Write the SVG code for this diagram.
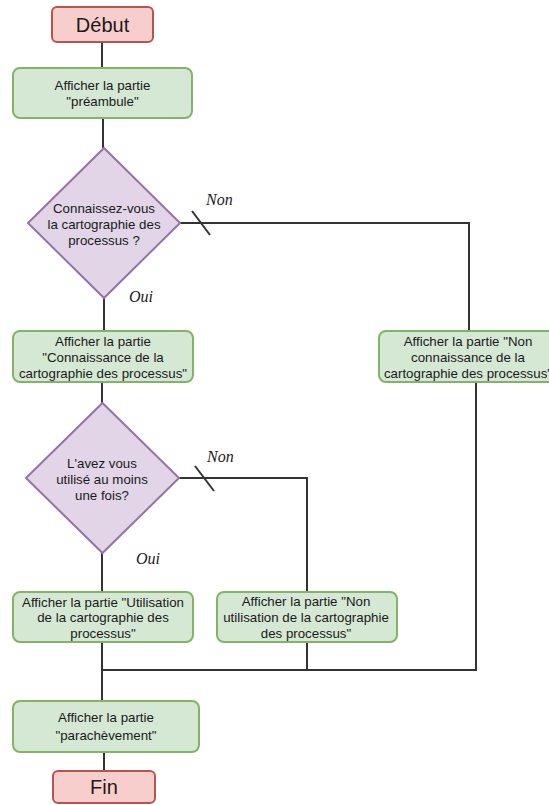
<svg xmlns="http://www.w3.org/2000/svg" width="549" height="805" viewBox="0 0 549 805">
<style>
.term{fill:#f8cecc;stroke:#b85450;stroke-width:2}
.proc{fill:#d5e8d4;stroke:#82b366;stroke-width:2}
.dec{fill:#e1d5e7;stroke:#9673a6;stroke-width:2}
.t{font-family:"Liberation Sans",Arial,sans-serif;font-size:13.3px;fill:#1a1a1a;text-anchor:middle}
.tb{font-family:"Liberation Sans",Arial,sans-serif;font-size:20px;fill:#1a1a1a;text-anchor:middle}
.lbl{font-family:"Liberation Serif","Times New Roman",serif;font-style:italic;font-size:16px;fill:#1a1a1a}
.c{fill:none;stroke:#333333;stroke-width:2}
</style>
<rect width="549" height="805" fill="#ffffff"/>
<g id="connectors">
<path class="c" d="M102 42 V68"/>
<path class="c" d="M103 118 V148"/>
<path class="c" d="M180 223 H469 V331"/>
<path class="c" d="M192 211 L210 235"/>
<path class="c" d="M104 298 V331"/>
<path class="c" d="M102 382 V403"/>
<path class="c" d="M179 478 H307 V592"/>
<path class="c" d="M195 466 L214 491"/>
<path class="c" d="M102 553 V592"/>
<path class="c" d="M102 642 V701"/>
<path class="c" d="M307 642 V670"/>
<path class="c" d="M476 382 V670 H102"/>
<path class="c" d="M104 752 V771"/>
<text class="lbl" x="206" y="205">Non</text>
<text class="lbl" x="129" y="302">Oui</text>
<text class="lbl" x="207" y="462">Non</text>
<text class="lbl" x="136" y="564">Oui</text>
</g>
<g id="debut">
<rect class="term" x="52" y="7" width="101" height="35" rx="5"/>
<text class="tb" x="102.5" y="31.5">Début</text>
</g>
<g id="preambule">
<rect class="proc" x="13" y="68" width="179" height="50" rx="7"/>
<text class="t" x="102.5" y="90">Afficher la partie</text>
<text class="t" x="102.5" y="106">"préambule"</text>
</g>
<g id="q1">
<polygon class="dec" points="104,148 180,223 104,298 28,223"/>
<text class="t" x="104" y="213">Connaissez-vous</text>
<text class="t" x="104" y="229">la cartographie des</text>
<text class="t" x="104" y="245">processus ?</text>
</g>
<g id="connaissance">
<rect class="proc" x="13" y="331" width="180" height="51" rx="7"/>
<text class="t" x="103" y="346">Afficher la partie</text>
<text class="t" x="103" y="362">"Connaissance de la</text>
<text class="t" x="103" y="378">cartographie des processus"</text>
</g>
<g id="nonconnaissance">
<rect class="proc" x="379" y="331" width="180" height="51" rx="7"/>
<text class="t" x="468" y="346">Afficher la partie "Non</text>
<text class="t" x="468" y="362">connaissance de la</text>
<text class="t" x="468" y="378">cartographie des processus"</text>
</g>
<g id="q2">
<polygon class="dec" points="102.5,403 179,478 102.5,553 26,478"/>
<text class="t" x="102" y="468">L'avez vous</text>
<text class="t" x="102" y="484">utilisé au moins</text>
<text class="t" x="102" y="500">une fois?</text>
</g>
<g id="utilisation">
<rect class="proc" x="13" y="592" width="180" height="50" rx="7"/>
<text class="t" x="103" y="607">Afficher la partie "Utilisation</text>
<text class="t" x="103" y="622">de la cartographie des</text>
<text class="t" x="103" y="638">processus"</text>
</g>
<g id="nonutilisation">
<rect class="proc" x="217" y="592" width="180" height="50" rx="7"/>
<text class="t" x="306" y="606">Afficher la partie "Non</text>
<text class="t" x="306" y="622">utilisation de la cartographie</text>
<text class="t" x="306" y="638">des processus"</text>
</g>
<g id="parachevement">
<rect class="proc" x="13" y="701" width="186" height="51" rx="7"/>
<text class="t" x="106" y="722">Afficher la partie</text>
<text class="t" x="106" y="740">"parachèvement"</text>
</g>
<g id="fin">
<rect class="term" x="53" y="771" width="102" height="32" rx="5"/>
<text class="tb" x="104" y="794">Fin</text>
</g>
</svg>
